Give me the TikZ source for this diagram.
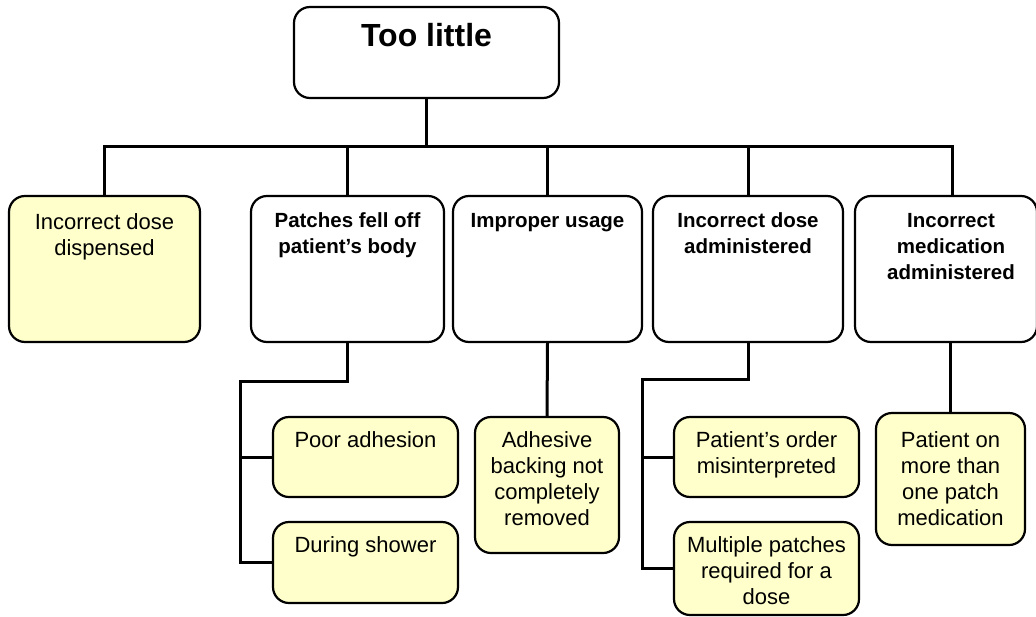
\documentclass[tikz,border=0pt]{standalone}
\usepackage{fontspec}
\setmainfont{Liberation Sans}
\definecolor{paleyellow}{RGB}{255,255,204}
\begin{document}
\begin{tikzpicture}[x=1pt,y=-1pt,
  box/.style={draw, line width=2.2pt, rounded corners=16pt, inner sep=0pt},
  hazard/.style={box, fill=paleyellow},
  plain/.style={box, fill=white},
  wire/.style={line width=3pt},
  lbl/.style={anchor=north, inner sep=0pt, align=center, font=\fontsize{22}{26}\selectfont},
  blbl/.style={anchor=north, inner sep=0pt, align=center, font=\fontsize{20.5}{26}\selectfont\bfseries},
  toplbl/.style={anchor=north, inner sep=0pt, align=center, font=\fontsize{32}{36}\selectfont\bfseries}]
\useasboundingbox (0,0) rectangle (1036,616);

% root
\node[plain, minimum width=265pt, minimum height=91pt] (top) at (426.5,52.5) {};
\node[toplbl] (toptxt) at ([yshift=-17pt]top.north) {Too little};

% first level
\node[hazard, minimum width=191pt, minimum height=146pt] (b1) at (104.5,269) {};
\node[plain,  minimum width=193pt, minimum height=146pt] (b2) at (347.5,269) {};
\node[plain,  minimum width=189pt, minimum height=146pt] (b3) at (547.5,269) {};
\node[plain,  minimum width=190pt, minimum height=146pt] (b4) at (748,269) {};
\node[plain,  minimum width=182pt, minimum height=146pt] (b5) at (946,269) {};

\node[lbl]  (t1) at ([yshift=-18pt]b1.north) {Incorrect dose\\dispensed};
\node[blbl] (t2) at ([yshift=-18pt]b2.north) {Patches fell off\\patient’s body};
\node[blbl] (t3) at ([yshift=-18pt]b3.north) {Improper usage};
\node[blbl] (t4) at ([yshift=-18pt]b4.north) {Incorrect dose\\administered};
\node[blbl] (t5) at ([xshift=5pt,yshift=-18pt]b5.north) {Incorrect\\medication\\administered};

% second level
\node[hazard, minimum width=185pt, minimum height=80pt]  (poor)   at (365.5,457) {};
\node[hazard, minimum width=185pt, minimum height=81pt]  (shower) at (365.5,562.5) {};
\node[hazard, minimum width=144pt, minimum height=136pt] (adh)    at (547,485) {};
\node[hazard, minimum width=185pt, minimum height=80pt]  (order)  at (766.5,457) {};
\node[hazard, minimum width=185pt, minimum height=93pt]  (multi)  at (766.5,568.5) {};
\node[hazard, minimum width=149pt, minimum height=132pt] (pat)    at (950.5,479) {};

\node[lbl] (tpoor)   at ([yshift=-15pt]poor.north)   {Poor adhesion};
\node[lbl] (tshower) at ([yshift=-15pt]shower.north) {During shower};
\node[lbl] (tadh)    at ([yshift=-15pt]adh.north)    {Adhesive\\backing not\\completely\\removed};
\node[lbl] (torder)  at ([yshift=-15pt]order.north)  {Patient’s order\\misinterpreted};
\node[lbl] (tmulti)  at ([yshift=-15pt]multi.north)  {Multiple patches\\required for a\\dose};
\node[lbl] (tpat)    at ([yshift=-19pt]pat.north)    {Patient on\\more than\\one patch\\medication};

% connectors
\coordinate (busL) at (104,146);
\coordinate (busR) at (952,146);
\draw[wire] (top.south) -- (top.south |- busL);
\draw[wire] (b1.north) |- (busR) -- (busR |- b5.north);
\draw[wire] (b2.north) -- (b2.north |- busL);
\draw[wire] (b3.north) -- (b3.north |- busL);
\draw[wire] (b4.north) -- (b4.north |- busL);

\coordinate (k2) at (240,381);
\draw[wire] (b2.south) |- (k2) |- (shower.west);
\draw[wire] (poor.west) -- (poor.west -| k2);
\draw[wire] (b3.south) -- (adh.north);

\coordinate (k4) at (642,379);
\draw[wire] (b4.south) |- (k4) |- (multi.west);
\draw[wire] (order.west) -- (order.west -| k4);

\draw[wire] (pat.north) -- (pat.north |- b5.south);
\end{tikzpicture}
\end{document}
